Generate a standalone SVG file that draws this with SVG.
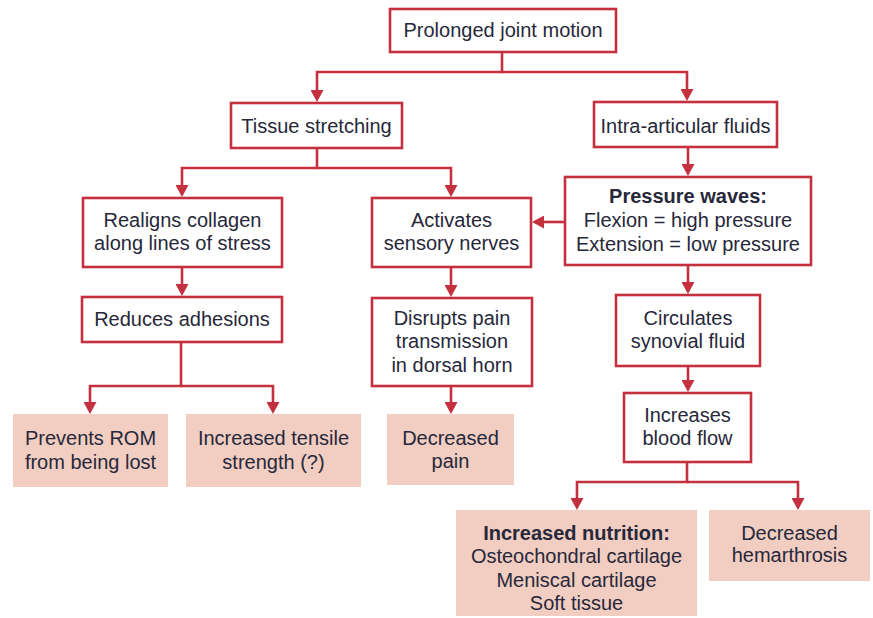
<svg xmlns="http://www.w3.org/2000/svg" width="873" height="618" viewBox="0 0 873 618">
<defs>
<marker id="arr" markerUnits="userSpaceOnUse" markerWidth="13" markerHeight="13" viewBox="0 0 12 13" refX="9" refY="6.5" orient="auto">
<path d="M0,0 L12,6.5 L0,13 z" fill="#c4303d"/>
</marker>
<style>
.box{fill:#ffffff;stroke:#c4303d;stroke-width:2.6}
.leaf{fill:#f1cdc2;stroke:none}
.t{font-family:"Liberation Sans",Arial,sans-serif;font-size:20px;fill:#27283a;text-anchor:middle}
.b{font-weight:bold}
.c{fill:none;stroke:#c4303d;stroke-width:2.6;marker-end:url(#arr)}
</style>
</defs>
<rect width="873" height="618" fill="#ffffff"/>
<g id="connectors">
<path class="c" d="M502,53 V72 H317 V99"/>
<path class="c" d="M502,72 H687 V98"/>
<path class="c" d="M317,149 V168 H182 V194"/>
<path class="c" d="M317,168 H451 V194"/>
<path class="c" d="M688,148 V173"/>
<path class="c" d="M564,222 H535"/>
<path class="c" d="M182,268 V293"/>
<path class="c" d="M451,268 V294"/>
<path class="c" d="M181,343 V386 H90 V411"/>
<path class="c" d="M181,386 H273 V411"/>
<path class="c" d="M451,387 V411"/>
<path class="c" d="M688,266 V291"/>
<path class="c" d="M688,367 V389"/>
<path class="c" d="M687,463 V482 H577 V507"/>
<path class="c" d="M687,482 H798 V507"/>
</g>
<g id="n-prolonged"><rect class="box" x="390" y="9" width="226" height="43"/><text class="t" x="503" y="37">Prolonged joint motion</text></g>
<g id="n-tissue"><rect class="box" x="231" y="103" width="171" height="45"/><text class="t" x="316.5" y="133">Tissue stretching</text></g>
<g id="n-intra"><rect class="box" x="594" y="102" width="183" height="45"/><text class="t" x="685.5" y="133">Intra-articular fluids</text></g>
<g id="n-realigns"><rect class="box" x="83" y="198" width="199" height="69"/><text class="t" x="182.5" y="227">Realigns collagen</text><text class="t" x="182.5" y="250">along lines of stress</text></g>
<g id="n-activates"><rect class="box" x="372" y="198" width="159" height="69"/><text class="t" x="451.5" y="227">Activates</text><text class="t" x="451.5" y="250">sensory nerves</text></g>
<g id="n-pressure"><rect class="box" x="565" y="177" width="246" height="88"/><text class="t b" x="688" y="203">Pressure waves:</text><text class="t" x="688" y="227">Flexion = high pressure</text><text class="t" x="688" y="251">Extension = low pressure</text></g>
<g id="n-reduces"><rect class="box" x="82" y="297" width="200" height="45"/><text class="t" x="182" y="326">Reduces adhesions</text></g>
<g id="n-disrupts"><rect class="box" x="372" y="298" width="160" height="88"/><text class="t" x="452" y="325">Disrupts pain</text><text class="t" x="452" y="348">transmission</text><text class="t" x="452" y="372">in dorsal horn</text></g>
<g id="n-circulates"><rect class="box" x="616" y="295" width="144" height="71"/><text class="t" x="688" y="325">Circulates</text><text class="t" x="688" y="348">synovial fluid</text></g>
<g id="n-increases"><rect class="box" x="624" y="393" width="127" height="69"/><text class="t" x="687.5" y="422">Increases</text><text class="t" x="687.5" y="445">blood flow</text></g>
<g id="n-prevents"><rect class="leaf" x="13" y="414" width="155" height="73"/><text class="t" x="90.5" y="445">Prevents ROM</text><text class="t" x="90.5" y="469">from being lost</text></g>
<g id="n-tensile"><rect class="leaf" x="186" y="414" width="175" height="73"/><text class="t" x="273.5" y="445">Increased tensile</text><text class="t" x="273.5" y="469">strength (?)</text></g>
<g id="n-pain"><rect class="leaf" x="387" y="414" width="127" height="71"/><text class="t" x="450.5" y="445">Decreased</text><text class="t" x="450.5" y="468">pain</text></g>
<g id="n-nutrition"><rect class="leaf" x="456" y="510" width="241" height="106"/><text class="t b" x="576.5" y="540">Increased nutrition:</text><text class="t" x="576.5" y="563">Osteochondral cartilage</text><text class="t" x="576.5" y="587">Meniscal cartilage</text><text class="t" x="576.5" y="610">Soft tissue</text></g>
<g id="n-hemarthrosis"><rect class="leaf" x="709" y="510" width="161" height="71"/><text class="t" x="789.5" y="540">Decreased</text><text class="t" x="789.5" y="562">hemarthrosis</text></g>
</svg>
